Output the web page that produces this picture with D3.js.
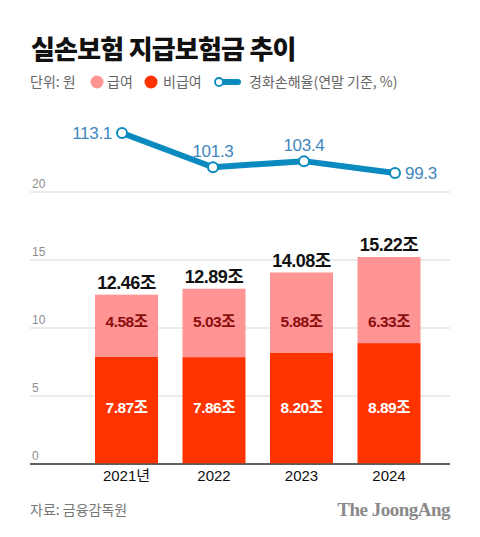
<!DOCTYPE html>
<html>
<head>
<meta charset="utf-8">
<script src="https://cdn.jsdelivr.net/npm/d3@7"></script>
<style>
  html, body { margin: 0; padding: 0; background: #fff; }
  svg { display: block; font-family: "Noto Sans CJK KR", "Noto Sans", sans-serif; }
</style>
</head>
<body>
<svg id="chart" width="480" height="537"></svg>
<script>
const years = ['2021년', '2022', '2023', '2024'];
const nonCovered = [7.87, 7.86, 8.20, 8.89];   // 비급여
const covered = [4.58, 5.03, 5.88, 6.33];      // 급여
const totals = [12.46, 12.89, 14.08, 15.22];
const lossRatio = [113.1, 101.3, 103.4, 99.3];
const yTicks = [0, 5, 10, 15, 20];

const svg = d3.select('#chart');

const x = d3.scaleBand()
  .domain(years)
  .range([51.25, 464.25])
  .paddingInner(0.28)
  .paddingOuter(0.5);

const y = d3.scaleLinear().domain([0, 20]).range([464, 192]);

const xl = d3.scalePoint().domain(years).range([122, 395]);
const yl = d3.scaleLinear().domain([90, 120]).range([200, 113]);

// title
svg.append('text')
  .attr('x', 31).attr('y', 59)
  .attr('font-size', 26).attr('font-weight', 900)
  .attr('fill', '#111')
  .attr('letter-spacing', -0.8)
  .text('실손보험 지급보험금 추이');

// legend
const lg = svg.append('g').attr('font-size', 14).attr('fill', '#666');
lg.append('text').attr('x', 30).attr('y', 87).text('단위: 원');
lg.append('circle').attr('cx', 97).attr('cy', 82).attr('r', 6.5).attr('fill', '#ff9494');
lg.append('text').attr('x', 107).attr('y', 87).text('급여');
lg.append('circle').attr('cx', 151).attr('cy', 82).attr('r', 6.5).attr('fill', '#ff3300');
lg.append('text').attr('x', 163).attr('y', 87).text('비급여');
lg.append('line').attr('x1', 219).attr('x2', 238).attr('y1', 82).attr('y2', 82)
  .attr('stroke', '#0a8abf').attr('stroke-width', 6).attr('stroke-linecap', 'round');
lg.append('circle').attr('cx', 219).attr('cy', 82).attr('r', 4)
  .attr('fill', '#fff').attr('stroke', '#0a8abf').attr('stroke-width', 1.8);
lg.append('text').attr('x', 249).attr('y', 87).text('경화손해율(연말 기준, %)');

// grid
const grid = svg.append('g');
grid.selectAll('line')
  .data(yTicks)
  .enter()
  .append('line')
  .attr('x1', 30).attr('x2', 450)
  .attr('y1', d => y(d)).attr('y2', d => y(d))
  .attr('stroke', d => d === 0 ? '#555' : '#d8d8d8')
  .attr('stroke-width', d => d === 0 ? 1.5 : 1.2);
grid.selectAll('text')
  .data(yTicks)
  .enter()
  .append('text')
  .attr('x', 32).attr('y', d => y(d) - 4)
  .attr('font-size', 12).attr('fill', '#8e8e8e')
  .attr('font-family', 'Liberation Sans, Arial, sans-serif')
  .text(d => d);

// bars
const bars = svg.append('g');
bars.selectAll('rect.nc')
  .data(years)
  .enter()
  .append('rect')
  .attr('class', 'nc')
  .attr('x', d => x(d)).attr('width', x.bandwidth())
  .attr('y', (d, i) => y(nonCovered[i]))
  .attr('height', (d, i) => y(0) - y(nonCovered[i]))
  .attr('fill', '#ff3300');
bars.selectAll('rect.cv')
  .data(years)
  .enter()
  .append('rect')
  .attr('class', 'cv')
  .attr('x', d => x(d)).attr('width', x.bandwidth())
  .attr('y', (d, i) => y(nonCovered[i] + covered[i]))
  .attr('height', (d, i) => y(nonCovered[i]) - y(nonCovered[i] + covered[i]))
  .attr('fill', '#ff9494');

// redraw baseline on top
svg.append('line')
  .attr('x1', 30).attr('x2', 450).attr('y1', y(0)).attr('y2', y(0))
  .attr('stroke', '#555').attr('stroke-width', 1.5);

const lab = svg.append('g')
  .attr('font-family', 'Liberation Sans, "Noto Sans CJK KR", sans-serif')
  .attr('font-weight', 700)
  .attr('text-anchor', 'middle');

lab.selectAll('text.cvl')
  .data(years)
  .enter()
  .append('text')
  .attr('x', d => x(d) + x.bandwidth() / 2)
  .attr('y', y(10.5) + 6)
  .attr('font-size', 15.5).attr('fill', '#8c0d0d')
  .attr('letter-spacing', -0.5)
  .text((d, i) => covered[i].toFixed(2) + '조');

lab.selectAll('text.ncl')
  .data(years)
  .enter()
  .append('text')
  .attr('x', d => x(d) + x.bandwidth() / 2)
  .attr('y', y(4.2) + 6)
  .attr('font-size', 15.5).attr('fill', '#fff')
  .attr('letter-spacing', -0.5)
  .text((d, i) => nonCovered[i].toFixed(2) + '조');

lab.selectAll('text.tot')
  .data(years)
  .enter()
  .append('text')
  .attr('x', d => x(d) + x.bandwidth() / 2)
  .attr('y', (d, i) => y(totals[i]) - 6)
  .attr('font-size', 18).attr('fill', '#111')
  .attr('letter-spacing', -0.5)
  .text((d, i) => totals[i].toFixed(2) + '조');

// x axis labels
svg.append('g')
  .selectAll('text')
  .data(years)
  .enter()
  .append('text')
  .attr('x', d => x(d) + x.bandwidth() / 2)
  .attr('y', 481)
  .attr('text-anchor', 'middle')
  .attr('font-size', 15).attr('fill', '#111')
  .attr('font-family', 'Liberation Sans, "Noto Sans CJK KR", sans-serif')
  .text(d => d);

// loss ratio line
const line = d3.line()
  .x((d, i) => xl(years[i]))
  .y(d => yl(d));

svg.append('path')
  .datum(lossRatio)
  .attr('d', line)
  .attr('fill', 'none')
  .attr('stroke', '#0a8abf')
  .attr('stroke-width', 6)
  .attr('stroke-linejoin', 'round');

svg.append('g')
  .selectAll('circle')
  .data(lossRatio)
  .enter()
  .append('circle')
  .attr('cx', (d, i) => xl(years[i]))
  .attr('cy', d => yl(d))
  .attr('r', 5)
  .attr('fill', '#fff')
  .attr('stroke', '#0a8abf')
  .attr('stroke-width', 2);

const pos = [
  { dx: -10, dy: 6, anchor: 'end' },
  { dx: 0, dy: -10, anchor: 'middle' },
  { dx: 0, dy: -10, anchor: 'middle' },
  { dx: 10, dy: 6, anchor: 'start' }
];
svg.append('g')
  .selectAll('text')
  .data(lossRatio)
  .enter()
  .append('text')
  .attr('x', (d, i) => xl(years[i]) + pos[i].dx)
  .attr('y', (d, i) => yl(d) + pos[i].dy)
  .attr('text-anchor', (d, i) => pos[i].anchor)
  .attr('font-size', 17).attr('fill', '#3f87c0')
  .attr('font-family', 'Liberation Sans, Arial, sans-serif')
  .attr('letter-spacing', -0.3)
  .text(d => d.toFixed(1));

// footer
svg.append('text')
  .attr('x', 30).attr('y', 515)
  .attr('font-size', 14).attr('fill', '#777')
  .text('자료: 금융감독원');

svg.append('text')
  .attr('x', 450).attr('y', 516)
  .attr('text-anchor', 'end')
  .attr('font-size', 19).attr('font-weight', 700)
  .attr('fill', '#8a8a8a')
  .attr('font-family', '"Liberation Serif", "DejaVu Serif", serif')
  .attr('letter-spacing', -0.5)
  .text('The JoongAng');
</script>
</body>
</html>
